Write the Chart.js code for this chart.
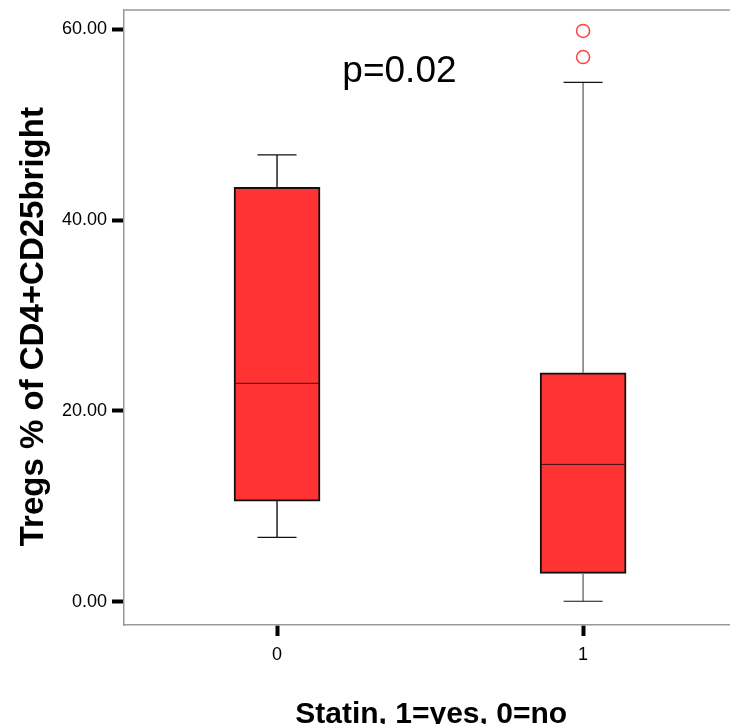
<!DOCTYPE html>
<html>
<head>
<meta charset="utf-8">
<script src="https://cdn.jsdelivr.net/npm/chart.js@4"></script>
<style>
  html, body { margin: 0; padding: 0; background: #fff; overflow: hidden; }
  #wrap { width: 730px; height: 724px; }
</style>
</head>
<body>
<div id="wrap"><canvas id="boxChart" width="730" height="724"></canvas></div>
<script>
// Tregs by statin use
const groups = [0, 1];
const lowerWhisker = [6.75, 0.05];
const q1 = [10.55, 2.98];
const median = [22.9, 14.4];
const q3 = [43.45, 24.0];
const upperWhisker = [46.85, 54.45];
const outliers = [[], [57.1, 59.85]];
const yTicks = [0, 20, 40, 60];

const font = '"Liberation Sans", Arial, sans-serif';

const boxData = groups.map((g, i) => ({ x: g, y: [q1[i], q3[i]] }));
const outlierData = [];
groups.forEach((g, i) => outliers[i].forEach(v => outlierData.push({ x: g, y: v })));

// Whiskers, medians, frame top and the p-value
const boxExtras = {
  id: 'boxExtras',
  afterDatasetsDraw(chart) {
    const { ctx, chartArea, scales: { x, y } } = chart;
    const stemColors = ['#222', '#777'];
    ctx.save();
    groups.forEach((g, i) => {
      const cx = x.getPixelForValue(g);
      const yLo = y.getPixelForValue(lowerWhisker[i]);
      const yHi = y.getPixelForValue(upperWhisker[i]);
      const yQ1 = y.getPixelForValue(q1[i]);
      const yQ3 = y.getPixelForValue(q3[i]);
      ctx.strokeStyle = stemColors[i];
      ctx.lineWidth = 1.5;
      ctx.beginPath();
      ctx.moveTo(cx, yQ1); ctx.lineTo(cx, yLo);
      ctx.moveTo(cx, yQ3); ctx.lineTo(cx, yHi);
      ctx.stroke();
      ctx.strokeStyle = '#111';
      ctx.lineWidth = 1.2;
      ctx.beginPath();
      ctx.moveTo(cx - 19.5, yLo); ctx.lineTo(cx + 19.5, yLo);
      ctx.moveTo(cx - 19.5, yHi); ctx.lineTo(cx + 19.5, yHi);
      ctx.stroke();
      const yMed = y.getPixelForValue(median[i]);
      ctx.strokeStyle = '#3a1010';
      ctx.lineWidth = 1;
      ctx.beginPath();
      ctx.moveTo(cx - 42, yMed); ctx.lineTo(cx + 42, yMed);
      ctx.stroke();
    });
    ctx.strokeStyle = '#999';
    ctx.lineWidth = 1.5;
    ctx.beginPath();
    ctx.moveTo(chartArea.left, chartArea.top);
    ctx.lineTo(chartArea.right, chartArea.top);
    ctx.stroke();
    ctx.fillStyle = '#000';
    ctx.font = '37px ' + font;
    ctx.textAlign = 'center';
    ctx.textBaseline = 'middle';
    ctx.fillText('p=0.02', x.getPixelForValue(0.4), y.getPixelForValue(55.6));
    ctx.restore();
  }
};

new Chart(document.getElementById('boxChart'), {
  type: 'bar',
  data: {
    datasets: [{
      data: boxData,
      backgroundColor: '#ff3333',
      borderColor: '#111',
      borderWidth: 2,
      borderSkipped: false,
      barThickness: 86
    }, {
      type: 'scatter',
      data: outlierData,
      pointStyle: 'circle',
      pointRadius: 6.5,
      borderColor: '#ff4040',
      borderWidth: 1.5,
      backgroundColor: 'rgba(0,0,0,0)'
    }]
  },
  options: {
    responsive: false,
    animation: false,
    layout: { autoPadding: false, padding: { top: 10, right: 0 } },
    plugins: { legend: { display: false }, tooltip: { enabled: false } },
    scales: {
      x: {
        type: 'linear',
        offset: false,
        min: -0.5,
        max: 1.48,
        afterBuildTicks: s => { s.ticks = groups.map(v => ({ value: v })); },
        afterFit: s => { s.height = 99; s.paddingLeft = 0; s.paddingRight = 0; },
        border: { color: '#999', width: 1.5 },
        grid: { offset: false, drawOnChartArea: false, tickLength: 11, tickColor: '#000', tickWidth: 4 },
        ticks: { color: '#000', font: { family: font, size: 18 }, padding: 8 },
        title: {
          display: true,
          text: ' Statin, 1=yes, 0=no',
          color: '#000',
          font: { family: font, size: 30, weight: 'bold' },
          padding: { top: 0, bottom: -9 }
        }
      },
      y: {
        min: -2.44,
        max: 62.04,
        afterBuildTicks: s => { s.ticks = yTicks.map(v => ({ value: v })); },
        afterFit: s => { s.width = 124; s.paddingTop = 0; s.paddingBottom = 0; },
        border: { color: '#999', width: 1.5 },
        grid: { drawOnChartArea: false, tickLength: 12, tickColor: '#000', tickWidth: 4 },
        ticks: {
          color: '#000',
          font: { family: font, size: 18 },
          padding: 5,
          callback: v => v.toFixed(2)
        },
        title: {
          display: true,
          text: 'Tregs % of CD4+CD25bright  ',
          color: '#000',
          font: { family: font, size: 33, weight: 'bold' },
          padding: { top: 14, bottom: 0 }
        }
      }
    }
  },
  plugins: [boxExtras]
});
</script>
</body>
</html>
